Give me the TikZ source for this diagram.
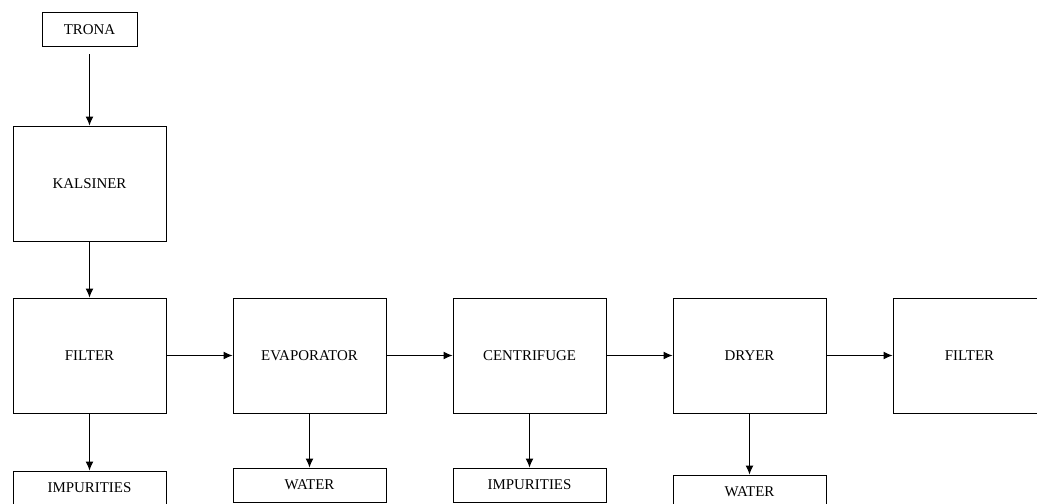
\documentclass[tikz,border=0pt]{standalone}
\usepackage{fontspec}
\setmainfont{Liberation Serif}
\usetikzlibrary{arrows.meta}

\begin{document}
\begin{tikzpicture}[>={Latex[length=9*0.75pt,width=8*0.75pt]}, x=0.75pt, y=-0.75pt, line width=0.75pt,
  unit/.style={draw, minimum width=153*0.75pt, minimum height=115*0.75pt, inner sep=0pt,
    font=\fontsize{11.2}{13}\selectfont},
  stream/.style={draw, minimum width=153*0.75pt, minimum height=34*0.75pt, inner sep=0pt,
    font=\fontsize{11.2}{13}\selectfont}] % filled arrowheads, pixel units

  \clip (0,0) rectangle (1037,503);

  \node[stream, minimum width=95*0.75pt](trona) at (89.5,30) {TRONA};
  \node[unit](kalsiner) at (89.5,183.5) {KALSINER};

  \node[unit](filterA) at (89.5,355.5) {FILTER};
  \node[unit](evap) at (309.5,355.5) {EVAPORATOR};
  \node[unit](centri) at (529.5,355.5) {CENTRIFUGE};
  \node[unit](dryer) at (749.5,355.5) {DRYER};
  \node[unit](filterB) at (969.5,355.5) {FILTER};

  \node[stream](impA) at (89.5,488) {IMPURITIES};
  \node[stream](waterA) at (309.5,485) {WATER};
  \node[stream](impB) at (529.5,485) {IMPURITIES};
  \node[stream](waterB) at (749.5,492) {WATER};

  \draw[->, shorten <=7*0.75pt] (trona) -- (kalsiner);
  \draw[->] (kalsiner) -- (filterA);

  \draw[->] (filterA) -- (evap);
  \draw[->] (evap) -- (centri);
  \draw[->] (centri) -- (dryer);
  \draw[->] (dryer) -- (filterB);

  \draw[->] (filterA) -- (impA);
  \draw[->] (evap) -- (waterA);
  \draw[->] (centri) -- (impB);
  \draw[->] (dryer) -- (waterB);

\end{tikzpicture}
\end{document}
